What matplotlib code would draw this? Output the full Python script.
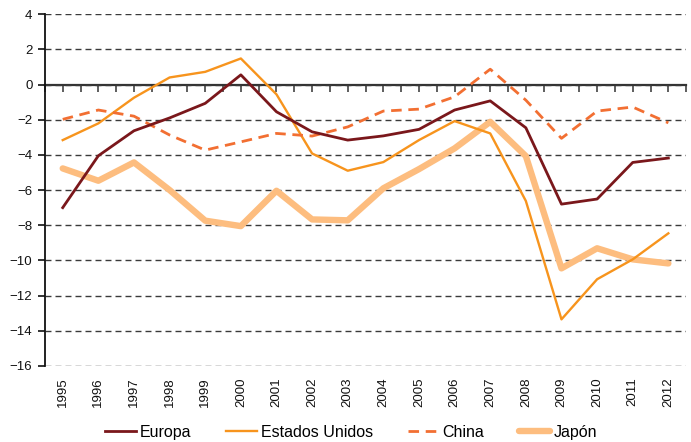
import numpy as np
import matplotlib
matplotlib.use("Agg")
import matplotlib.pyplot as plt

plt.rcParams['font.family'] = ['Liberation Sans', 'DejaVu Sans']

# === data ===
years = [str(y) for y in range(1995, 2013)]
europa = [-7.0, -4.05, -2.63, -1.9, -1.07, 0.55, -1.55, -2.69, -3.16, -2.92,
          -2.55, -1.45, -0.93, -2.46, -6.8, -6.51, -4.43, -4.18]
eeuu = [-3.16, -2.21, -0.75, 0.4, 0.72, 1.48, -0.56, -3.92, -4.9, -4.41,
        -3.16, -2.08, -2.78, -6.62, -13.35, -11.07, -9.94, -8.46]
china = [-1.98, -1.45, -1.8, -2.87, -3.73, -3.26, -2.78, -2.93, -2.41, -1.51,
         -1.4, -0.7, 0.87, -0.89, -3.06, -1.51, -1.28, -2.18]
japon = [-4.77, -5.47, -4.43, -6.0, -7.74, -8.05, -6.04, -7.67, -7.72, -5.9,
         -4.81, -3.63, -2.12, -4.07, -10.45, -9.31, -9.94, -10.17]

x = np.arange(len(years))

fig = plt.figure(figsize=(6.91, 4.42), dpi=100)
ax = fig.add_axes([0.065, 0.172, 0.928, 0.796])

ax.plot(x, europa, color='#7a171b', lw=2.0, label='Europa', zorder=4)
ax.plot(x, eeuu, color='#f7941d', lw=1.7, label='Estados Unidos', zorder=3)
ax.plot(x, china, color='#f26f32', lw=2.0, ls=(0, (3.8, 2.4)), label='China', zorder=3)
ax.plot(x, japon, color='#fdbd7f', lw=4.6, label='Japón', zorder=2,
        solid_capstyle='round')

ax.set_xlim(-0.5, len(years) - 0.5)
ax.set_ylim(-16, 4)
ax.set_yticks(np.arange(-16, 5, 2))
ax.set_xticks(x)
ax.set_xticklabels(years, rotation=90)

# gridlines
ax.yaxis.grid(True, linestyle=(0, (4.3, 2.9)), color='#3a3a3a', lw=1.0)
ax.set_axisbelow(True)

for s in ['top', 'right', 'bottom']:
    ax.spines[s].set_visible(False)
ax.spines['left'].set_linewidth(1.3)
ax.spines['left'].set_color('#111111')

ax.tick_params(axis='y', length=5, width=1.2, pad=4, labelsize=9.5, colors='#111111')
ax.tick_params(axis='x', length=0, pad=8, labelsize=9.5, colors='#111111')

# zero line with small ticks
zero = ax.secondary_xaxis(0.8)
zero.set_xticks(np.arange(-0.5, len(years), 0.5))
zero.tick_params(axis='x', direction='in', length=5, width=1.1, labeltop=False,
                 colors='#333333')
zero.spines['top'].set_linewidth(1.6)
zero.spines['top'].set_color('#333333')

fig.legend(loc='center', bbox_to_anchor=(0.508, 0.022), ncol=4, frameon=False,
           fontsize=11.5, handlelength=1.95, handletextpad=0.2, columnspacing=2.2,
           borderaxespad=0)

fig.savefig('out.png', dpi=100)
